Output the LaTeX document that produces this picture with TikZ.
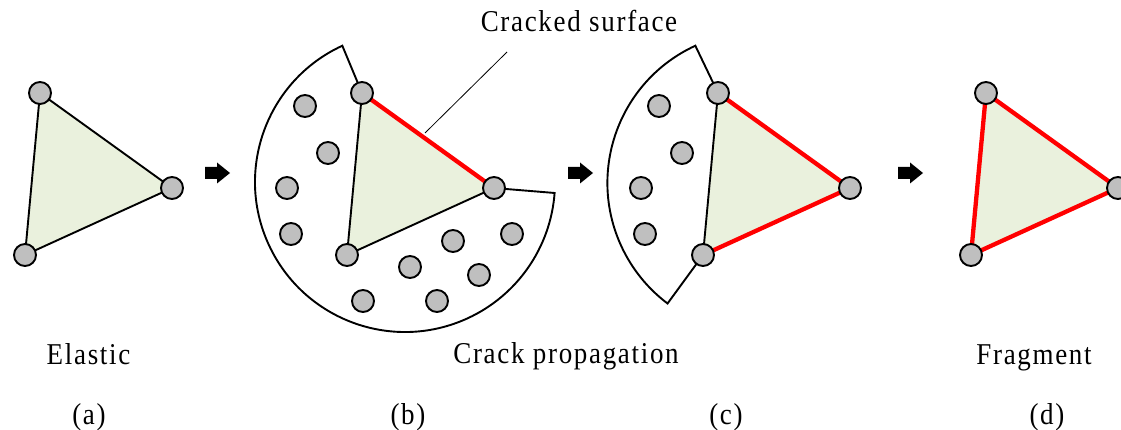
\documentclass[tikz,border=0pt]{standalone}
\usepackage{fontspec}
\setmainfont{Liberation Serif}
\newfontfamily\spacedfont{Liberation Serif}[LetterSpace=6.2]
\usetikzlibrary{calc,backgrounds}
\definecolor{trifill}{RGB}{234,241,221}
\definecolor{pgray}{RGB}{191,191,191}
\definecolor{crackred}{RGB}{255,0,0}
\newcommand{\vstr}[1]{\scalebox{1}[1.12]{#1}}
\tikzset{
 vert/.style={circle, draw=black, fill=pgray, line width=1.9pt, minimum size=22pt, inner sep=0pt},
 edgeline/.style={line width=1.9pt, draw=black},
 crackline/.style={line width=4.3pt, draw=crackred},
 fragline/.style={line width=1.9pt, draw=black, line join=miter},
 trifillstyle/.style={fill=trifill},
 lbl/.style={anchor=base, inner sep=0pt, font=\spacedfont\fontsize{27}{31}\selectfont},
 blockarr/.pic={\fill[black] (-12,-6) -- (0,-6) -- (0,-10.5) -- (13,0) -- (0,10.5) -- (0,6) -- (-12,6) -- cycle;}
}
\begin{document}
\begin{tikzpicture}[x=1pt,y=-1pt]
\useasboundingbox (0,0) rectangle (1121,430);
% vertex nodes
\node[vert] (a1) at (40,93) {};
\node[vert] (a2) at (172,188) {};
\node[vert] (a3) at (25,255) {};
\node[vert] (b1) at (362,93) {};
\node[vert] (b2) at (494,188) {};
\node[vert] (b3) at (347,255) {};
\node[vert] (c1) at (718,93) {};
\node[vert] (c2) at (850,188) {};
\node[vert] (c3) at (703,255) {};
\node[vert] (d1) at (986,93) {};
\node[vert] (d2) at (1118,188) {};
\node[vert] (d3) at (971,255) {};
% particles
\foreach \n/\p in {p1/{(305,106)},p2/{(328,153)},p3/{(287,188)},p4/{(291,234)},p5/{(453,241)},p6/{(512,234)},p7/{(410,267)},p8/{(479,275)},p9/{(363,301)},p10/{(437,301)},q1/{(659,106)},q2/{(682,153)},q3/{(641,188)},q4/{(645,234)}}
  \node[vert] (\n) at \p {};
\coordinate (bc) at (405,182);
\coordinate (cc) at (758,182);
\begin{scope}[on background layer]
 % fragments
 \draw[fragline] (b1.center) -- ([shift={(245.3:150)}]bc) arc[start angle=245.3, end angle=4.2, radius=150] -- (b2.center);
 \draw[fragline] (c1.center) -- ([shift={(245.3:150)}]cc) arc[start angle=245.3, end angle=127, radius=151] -- (c3.center);
 % triangles
 \fill[trifillstyle] (a1.center) -- (a2.center) -- (a3.center) -- cycle;
 \fill[trifillstyle] (b1.center) -- (b2.center) -- (b3.center) -- cycle;
 \fill[trifillstyle] (c1.center) -- (c2.center) -- (c3.center) -- cycle;
 \fill[trifillstyle] (d1.center) -- (d2.center) -- (d3.center) -- cycle;
 \draw[edgeline] (a1.center) -- (a2.center) -- (a3.center) -- cycle;
 \draw[edgeline] (b2.center) -- (b3.center) -- (b1.center);
 \draw[crackline] (b1.center) -- (b2.center);
 \draw[edgeline] (c1.center) -- (c3.center);
 \draw[crackline] (c1.center) -- (c2.center) -- (c3.center);
 \draw[crackline, line join=round] (d1.center) -- (d2.center) -- (d3.center) -- cycle;
\end{scope}
% arrows
\pic at (217,173) {blockarr};
\pic at (580,173) {blockarr};
\pic at (910,173) {blockarr};
% leader
\coordinate (leadtop) at (507,52);
\coordinate (leadend) at (425,133);
\draw[line width=0.8pt] (leadtop) -- (leadend);
% labels
\node[lbl] (tcrk) at (579,32) {\vstr{Cracked surface}};
\node[lbl] (tela) at (88.5,364) {\vstr{Elastic}};
\node[lbl] (tprop) at (566,363) {\vstr{Crack propagation}};
\node[lbl] (tfrag) at (1034,364) {\vstr{Fragment}};
\node[lbl] (la) at (89,424) {\vstr{(a)}};
\node[lbl] (lb) at (408,424) {\vstr{(b)}};
\node[lbl] (lc) at (726,424) {\vstr{(c)}};
\node[lbl] (ld) at (1047,424) {\vstr{(d)}};
\end{tikzpicture}
\end{document}
